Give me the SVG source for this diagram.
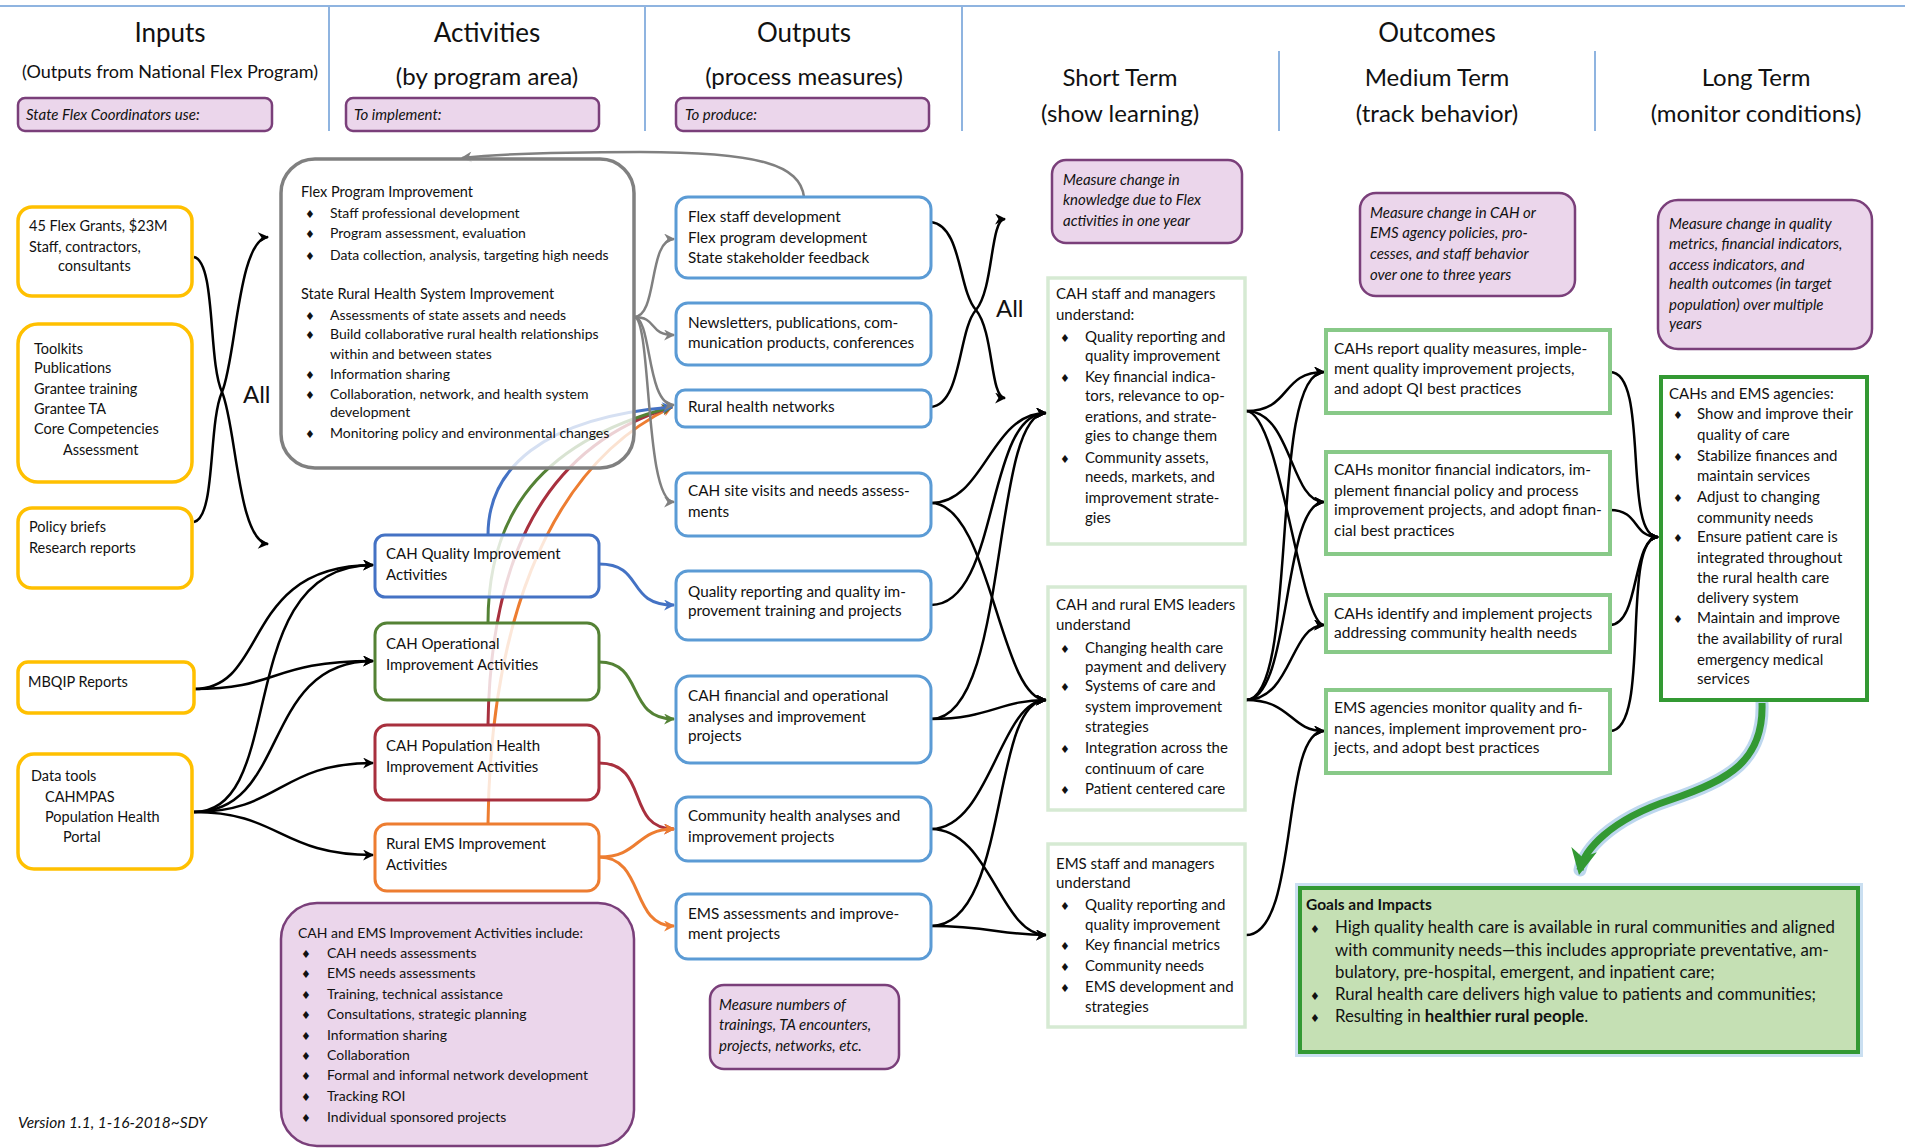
<svg xmlns="http://www.w3.org/2000/svg" width="1905" height="1148" viewBox="0 0 1905 1148">
<style>
text{font-family:Lato,"Liberation Sans",sans-serif;fill:#111;font-size:14.5px}
.h{font-size:26px;text-anchor:middle}
.sh{font-size:24px;text-anchor:middle}
.it{font-style:italic;font-size:15px}
.sm{font-size:14px}
.o{font-size:15.3px}
.m{font-size:15.5px}
.s{font-size:15px}
.d{font-family:"DejaVu Sans",sans-serif;font-size:11px}
.sep{stroke:#8FB4E0;stroke-width:2;fill:none}
.inp{fill:#fff;stroke:#FFC000;stroke-width:3.5}
.pur{fill:#EBD6EB;stroke:#7A3F7A;stroke-width:2.5}
.out{fill:#fff;stroke:#5B9BD5;stroke-width:3}
.st{fill:#fff;stroke:#D6EAD3;stroke-width:3.5}
.md{fill:#fff;stroke:#88C988;stroke-width:4}
.act{fill:#fff;fill-opacity:0.82;stroke-width:3}
.k{fill:none;stroke:#000;stroke-width:2.5;marker-end:url(#ak)}
.g{fill:none;stroke:#808080;stroke-width:2.5;marker-end:url(#ag)}
</style>
<defs>
<marker id="ak" viewBox="0 0 10 10" refX="9" refY="5" markerWidth="13" markerHeight="11" markerUnits="userSpaceOnUse" orient="auto"><path d="M0,0 L10,5 L0,10 L3,5z" fill="#000"/></marker>
<marker id="ag" viewBox="0 0 10 10" refX="9" refY="5" markerWidth="13" markerHeight="11" markerUnits="userSpaceOnUse" orient="auto"><path d="M0,0 L10,5 L0,10 L3,5z" fill="#808080"/></marker>
<marker id="abl" viewBox="0 0 10 10" refX="9" refY="5" markerWidth="13" markerHeight="11" markerUnits="userSpaceOnUse" orient="auto"><path d="M0,0 L10,5 L0,10 L3,5z" fill="#4472C4"/></marker>
<marker id="agr" viewBox="0 0 10 10" refX="9" refY="5" markerWidth="13" markerHeight="11" markerUnits="userSpaceOnUse" orient="auto"><path d="M0,0 L10,5 L0,10 L3,5z" fill="#548235"/></marker>
<marker id="are" viewBox="0 0 10 10" refX="9" refY="5" markerWidth="13" markerHeight="11" markerUnits="userSpaceOnUse" orient="auto"><path d="M0,0 L10,5 L0,10 L3,5z" fill="#A8303E"/></marker>
<marker id="aor" viewBox="0 0 10 10" refX="9" refY="5" markerWidth="13" markerHeight="11" markerUnits="userSpaceOnUse" orient="auto"><path d="M0,0 L10,5 L0,10 L3,5z" fill="#ED7D31"/></marker>
<marker id="abig" viewBox="0 0 10 10" refX="8" refY="5" markerWidth="26" markerHeight="26" markerUnits="userSpaceOnUse" orient="auto"><path d="M0,0 L10,5 L0,10 L3,5z" fill="#339933"/></marker>
</defs>

<g id="header">
<line class="sep" x1="0" y1="6" x2="1905" y2="6"/>
<line class="sep" x1="329" y1="6" x2="329" y2="131"/>
<line class="sep" x1="645" y1="6" x2="645" y2="131"/>
<line class="sep" x1="962" y1="6" x2="962" y2="131"/>
<line class="sep" x1="1279" y1="51" x2="1279" y2="131"/>
<line class="sep" x1="1595" y1="51" x2="1595" y2="131"/>
<text class="h" x="170" y="42">Inputs</text>
<text class="h" x="487" y="42">Activities</text>
<text class="h" x="804" y="42">Outputs</text>
<text class="h" x="1437" y="42">Outcomes</text>
<text x="170" y="78" style="font-size:18px;text-anchor:middle">(Outputs from National Flex Program)</text>
<text class="sh" x="487" y="85">(by program area)</text>
<text class="sh" x="804" y="85">(process measures)</text>
<text class="sh" x="1120" y="86">Short Term</text>
<text class="sh" x="1120" y="122">(show learning)</text>
<text class="sh" x="1437" y="86">Medium Term</text>
<text class="sh" x="1437" y="122">(track behavior)</text>
<text class="sh" x="1756" y="86">Long Term</text>
<text class="sh" x="1756" y="122">(monitor conditions)</text>
</g>
<g id="hdr-inputs"><rect class="pur" x="18" y="98" width="254" height="33" rx="7"/><text class="it" x="26" y="120">State Flex Coordinators use:</text></g>
<g id="hdr-activities"><rect class="pur" x="346" y="98" width="253" height="33" rx="7"/><text class="it" x="354" y="120">To implement:</text></g>
<g id="hdr-outputs"><rect class="pur" x="676" y="98" width="253" height="33" rx="7"/><text class="it" x="685" y="120">To produce:</text></g>

<g id="connectors">
<path class="k" d="M194 257 C216 262 208 362 222 392 C236 424 238 542 268 544"/>
<path class="k" d="M194 522 C216 517 208 424 222 392 C236 360 238 239 268 237"/>
<path class="k" d="M194 689 C270 689 240 565 373 565"/>
<path class="k" d="M194 689 C280 689 270 661 373 661"/>
<path class="k" d="M194 812 C290 812 230 565 373 565"/>
<path class="k" d="M194 812 C290 812 260 661 373 661"/>
<path class="k" d="M194 812 C280 812 280 763 373 763"/>
<path class="k" d="M194 812 C280 812 280 855 373 855"/>
<path fill="none" stroke="#ED7D31" stroke-width="3" marker-end="url(#aor)" d="M488 824 C490 640 540 470 672 407"/>
<path fill="none" stroke="#A8303E" stroke-width="3" marker-end="url(#are)" d="M488 725 C490 580 530 450 672 407"/>
<path fill="none" stroke="#548235" stroke-width="3" marker-end="url(#agr)" d="M488 623 C488 530 525 445 672 407"/>
<path fill="none" stroke="#4472C4" stroke-width="3" marker-end="url(#abl)" d="M488 535 C488 470 540 418 672 407"/>
<path fill="none" stroke="#4472C4" stroke-width="3" marker-end="url(#abl)" d="M599 564 C645 564 625 605 674 605"/>
<path fill="none" stroke="#548235" stroke-width="3" marker-end="url(#agr)" d="M599 662 C645 662 625 719 674 719"/>
<path fill="none" stroke="#A8303E" stroke-width="3" marker-end="url(#are)" d="M599 763 C650 763 625 829 674 829"/>
<path fill="none" stroke="#ED7D31" stroke-width="3" marker-end="url(#aor)" d="M599 857 C640 857 635 829 674 829"/>
<path fill="none" stroke="#ED7D31" stroke-width="3" marker-end="url(#aor)" d="M599 857 C645 857 630 926 674 926"/>
<path class="g" d="M804 197 C800 165 760 152 640 152 C560 152 500 154 462 158"/>
<path class="g" d="M634 317 C658 317 648 239 674 239"/>
<path class="g" d="M634 317 C658 317 648 335 674 335"/>
<path class="g" d="M634 317 C652 317 646 405 674 405"/>
<path class="g" d="M634 317 C652 317 644 502 674 502"/>
<path class="k" d="M931 222 C962 226 958 290 976 310 C994 332 990 398 1005 398"/>
<path class="k" d="M931 407 C962 404 958 330 976 310 C994 288 990 219 1005 219"/>
<path class="k" d="M931 503 C985 503 990 413 1046 413"/>
<path class="k" d="M931 503 C990 503 1000 700 1046 700"/>
<path class="k" d="M931 605 C1000 605 985 413 1046 413"/>
<path class="k" d="M931 719 C1010 719 990 413 1046 413"/>
<path class="k" d="M931 719 C990 719 1000 700 1046 700"/>
<path class="k" d="M931 829 C990 829 1000 700 1046 700"/>
<path class="k" d="M931 829 C990 829 1000 935 1046 935"/>
<path class="k" d="M931 926 C1010 926 990 700 1046 700"/>
<path class="k" d="M931 926 C990 926 1000 935 1046 935"/>
<path class="k" d="M1246 411 C1292 411 1280 372 1324 372"/>
<path class="k" d="M1246 411 C1292 411 1290 502 1324 502"/>
<path class="k" d="M1246 411 C1280 411 1300 625 1324 625"/>
<path class="k" d="M1246 700 C1300 700 1268 372 1324 372"/>
<path class="k" d="M1246 700 C1292 700 1282 502 1324 502"/>
<path class="k" d="M1246 700 C1292 700 1290 625 1324 625"/>
<path class="k" d="M1246 700 C1292 700 1290 731 1324 731"/>
<path class="k" d="M1246 935 C1300 935 1280 731 1324 731"/>
<path class="k" d="M1610 372 C1650 372 1622 537 1658 537"/>
<path class="k" d="M1610 510 C1640 510 1632 537 1658 537"/>
<path class="k" d="M1610 625 C1640 625 1632 537 1658 537"/>
<path class="k" d="M1610 731 C1652 731 1620 537 1658 537"/>
<path fill="none" stroke="#BDD7EE" stroke-width="13" stroke-linecap="round" d="M1762 703 C1764 760 1730 780 1670 800 C1610 820 1584 850 1580 870"/>
<path fill="none" stroke="#339933" stroke-width="7" marker-end="url(#abig)" d="M1762 703 C1764 760 1730 780 1670 800 C1610 820 1584 850 1580 870"/>
</g>

<g id="in-grants"><rect class="inp" x="18" y="207" width="174" height="89" rx="14"/>
<text x="29" y="231">45 Flex Grants, $23M</text><text x="29" y="252">Staff, contractors,</text><text x="58" y="271">consultants</text></g>
<g id="in-toolkits"><rect class="inp" x="18" y="324" width="174" height="158" rx="20"/>
<text x="34" y="354">Toolkits</text><text x="34" y="373">Publications</text><text x="34" y="394">Grantee training</text><text x="34" y="414">Grantee TA</text><text x="34" y="434">Core Competencies</text><text x="63" y="455">Assessment</text></g>
<g id="in-policy"><rect class="inp" x="18" y="508" width="174" height="80" rx="14"/>
<text x="29" y="532">Policy briefs</text><text x="29" y="553">Research reports</text></g>
<g id="in-mbqip"><rect class="inp" x="18" y="662" width="176" height="51" rx="10"/>
<text x="28" y="687">MBQIP Reports</text></g>
<g id="in-data"><rect class="inp" x="18" y="754" width="174" height="115" rx="16"/>
<text x="31" y="781">Data tools</text><text x="45" y="802">CAHMPAS</text><text x="45" y="822">Population Health</text><text x="63" y="842">Portal</text></g>
<text x="243" y="403" style="font-size:24px">All</text>

<g id="act-flex"><rect x="281" y="159" width="353" height="309" rx="34" fill="#fff" fill-opacity="0.78" stroke="#808080" stroke-width="3.5"/>
<text x="301" y="197">Flex Program Improvement</text>
<text class="d" x="305" y="218">♦</text><text class="sm" x="330" y="218">Staff professional development</text>
<text class="d" x="305" y="238">♦</text><text class="sm" x="330" y="238">Program assessment, evaluation</text>
<text class="d" x="305" y="260">♦</text><text class="sm" x="330" y="260">Data collection, analysis, targeting high needs</text>
<text x="301" y="299">State Rural Health System Improvement</text>
<text class="d" x="305" y="320">♦</text><text class="sm" x="330" y="320">Assessments of state assets and needs</text>
<text class="d" x="305" y="339">♦</text><text class="sm" x="330" y="339">Build collaborative rural health relationships</text>
<text class="sm" x="330" y="359">within and between states</text>
<text class="d" x="305" y="379">♦</text><text class="sm" x="330" y="379">Information sharing</text>
<text class="d" x="305" y="399">♦</text><text class="sm" x="330" y="399">Collaboration, network, and health system</text>
<text class="sm" x="330" y="417">development</text>
<text class="d" x="305" y="438">♦</text><text class="sm" x="330" y="438">Monitoring policy and environmental changes</text></g>

<g id="act-quality"><rect class="act" x="375" y="535" width="224" height="62" rx="10" stroke="#4472C4"/>
<text class="s" x="386" y="559">CAH Quality Improvement</text><text class="s" x="386" y="580">Activities</text></g>
<g id="act-operational"><rect class="act" x="375" y="623" width="224" height="77" rx="12" stroke="#548235"/>
<text class="s" x="386" y="649">CAH Operational</text><text class="s" x="386" y="670">Improvement Activities</text></g>
<g id="act-population"><rect class="act" x="375" y="725" width="224" height="75" rx="12" stroke="#A8303E"/>
<text class="s" x="386" y="751">CAH Population Health</text><text class="s" x="386" y="772">Improvement Activities</text></g>
<g id="act-ems"><rect class="act" x="375" y="824" width="224" height="67" rx="12" stroke="#ED7D31"/>
<text class="s" x="386" y="849">Rural EMS Improvement</text><text class="s" x="386" y="870">Activities</text></g>

<g id="act-include"><rect class="pur" x="281" y="903" width="353" height="243" rx="36"/>
<text x="298" y="938" class="sm">CAH and EMS Improvement Activities include:</text>
<text class="d" x="301" y="958">♦</text><text class="sm" x="327" y="958">CAH needs assessments</text>
<text class="d" x="301" y="978">♦</text><text class="sm" x="327" y="978">EMS needs assessments</text>
<text class="d" x="301" y="999">♦</text><text class="sm" x="327" y="999">Training, technical assistance</text>
<text class="d" x="301" y="1019">♦</text><text class="sm" x="327" y="1019">Consultations, strategic planning</text>
<text class="d" x="301" y="1040">♦</text><text class="sm" x="327" y="1040">Information sharing</text>
<text class="d" x="301" y="1060">♦</text><text class="sm" x="327" y="1060">Collaboration</text>
<text class="d" x="301" y="1080">♦</text><text class="sm" x="327" y="1080">Formal and informal network development</text>
<text class="d" x="301" y="1101">♦</text><text class="sm" x="327" y="1101">Tracking ROI</text>
<text class="d" x="301" y="1122">♦</text><text class="sm" x="327" y="1122">Individual sponsored projects</text></g>

<text x="18" y="1128" class="it" style="font-size:15.5px">Version 1.1, 1-16-2018~SDY</text>

<g id="out-flex"><rect class="out" x="676" y="197" width="255" height="81" rx="12"/>
<text class="o" x="688" y="222">Flex staff development</text><text class="o" x="688" y="243">Flex program development</text><text class="o" x="688" y="263">State stakeholder feedback</text></g>
<g id="out-news"><rect class="out" x="676" y="303" width="255" height="62" rx="12"/>
<text class="o" x="688" y="328">Newsletters, publications, com-</text><text class="o" x="688" y="348">munication products, conferences</text></g>
<g id="out-networks"><rect class="out" x="676" y="390" width="255" height="37" rx="9"/>
<text class="o" x="688" y="412">Rural health networks</text></g>
<g id="out-site"><rect class="out" x="676" y="473" width="255" height="63" rx="12"/>
<text class="o" x="688" y="496">CAH site visits and needs assess-</text><text class="o" x="688" y="517">ments</text></g>
<g id="out-quality"><rect class="out" x="676" y="571" width="255" height="69" rx="12"/>
<text class="o" x="688" y="597">Quality reporting and quality im-</text><text class="o" x="688" y="616">provement training and projects</text></g>
<g id="out-financial"><rect class="out" x="676" y="676" width="255" height="87" rx="14"/>
<text class="o" x="688" y="701">CAH financial and operational</text><text class="o" x="688" y="722">analyses and  improvement</text><text class="o" x="688" y="741">projects</text></g>
<g id="out-community"><rect class="out" x="676" y="797" width="255" height="64" rx="12"/>
<text class="o" x="688" y="821">Community health analyses and</text><text class="o" x="688" y="842">improvement projects</text></g>
<g id="out-ems"><rect class="out" x="676" y="894" width="255" height="65" rx="12"/>
<text class="o" x="688" y="919">EMS assessments and improve-</text><text class="o" x="688" y="939">ment projects</text></g>
<g id="out-measure"><rect class="pur" x="710" y="985" width="189" height="84" rx="14"/>
<text class="it" x="719" y="1010">Measure numbers of</text><text class="it" x="719" y="1030">trainings, TA encounters,</text><text class="it" x="719" y="1051">projects, networks, etc.</text></g>
<text x="996" y="317" style="font-size:24px">All</text>

<g id="st-measure"><rect class="pur" x="1052" y="160" width="190" height="83" rx="14"/>
<text class="it" x="1063" y="185">Measure change in</text><text class="it" x="1063" y="205">knowledge due to Flex</text><text class="it" x="1063" y="226">activities in one year</text></g>
<g id="st-cah" class="s"><rect class="st" x="1048" y="278" width="197" height="266"/>
<text class="s" x="1056" y="299">CAH staff and managers</text><text class="s" x="1056" y="320">understand:</text>
<text class="d" x="1060" y="342">♦</text><text class="s" x="1085" y="342">Quality reporting and</text><text class="s" x="1085" y="361">quality improvement</text>
<text class="d" x="1060" y="382">♦</text><text class="s" x="1085" y="382">Key financial indica-</text><text class="s" x="1085" y="401">tors, relevance to op-</text><text class="s" x="1085" y="422">erations, and strate-</text><text class="s" x="1085" y="441">gies to change them</text>
<text class="d" x="1060" y="463">♦</text><text class="s" x="1085" y="463">Community assets,</text><text class="s" x="1085" y="482">needs, markets, and</text><text class="s" x="1085" y="503">improvement strate-</text><text class="s" x="1085" y="523">gies</text></g>
<g id="st-leaders"><rect class="st" x="1048" y="587" width="197" height="223"/>
<text class="s" x="1056" y="610">CAH and rural EMS leaders</text><text class="s" x="1056" y="630">understand</text>
<text class="d" x="1060" y="653">♦</text><text class="s" x="1085" y="653">Changing health care</text><text class="s" x="1085" y="672">payment and delivery</text>
<text class="d" x="1060" y="691">♦</text><text class="s" x="1085" y="691">Systems of care and</text><text class="s" x="1085" y="712">system improvement</text><text class="s" x="1085" y="732">strategies</text>
<text class="d" x="1060" y="753">♦</text><text class="s" x="1085" y="753">Integration across the</text><text class="s" x="1085" y="774">continuum of care</text>
<text class="d" x="1060" y="794">♦</text><text class="s" x="1085" y="794">Patient centered care</text></g>
<g id="st-ems"><rect class="st" x="1048" y="844" width="197" height="183"/>
<text class="s" x="1056" y="869">EMS staff and managers</text><text class="s" x="1056" y="888">understand</text>
<text class="d" x="1060" y="910">♦</text><text class="s" x="1085" y="910">Quality reporting and</text><text class="s" x="1085" y="930">quality improvement</text>
<text class="d" x="1060" y="950">♦</text><text class="s" x="1085" y="950">Key financial metrics</text>
<text class="d" x="1060" y="971">♦</text><text class="s" x="1085" y="971">Community needs</text>
<text class="d" x="1060" y="992">♦</text><text class="s" x="1085" y="992">EMS development and</text><text class="s" x="1085" y="1012">strategies</text></g>

<g id="md-measure"><rect class="pur" x="1360" y="193" width="215" height="103" rx="16"/>
<text class="it" x="1370" y="218">Measure change in CAH or</text><text class="it" x="1370" y="238">EMS agency policies, pro-</text><text class="it" x="1370" y="259">cesses, and staff behavior</text><text class="it" x="1370" y="280">over one to three years</text></g>
<g id="md-quality"><rect class="md" x="1326" y="330" width="284" height="83"/>
<text class="m" x="1334" y="354">CAHs report quality measures, imple-</text><text class="m" x="1334" y="374">ment quality improvement projects,</text><text class="m" x="1334" y="394">and adopt QI best practices</text></g>
<g id="md-financial"><rect class="md" x="1326" y="452" width="284" height="102"/>
<text class="m" x="1334" y="475">CAHs monitor financial indicators, im-</text><text class="m" x="1334" y="496">plement financial policy and process</text><text class="m" x="1334" y="515">improvement projects, and adopt finan-</text><text class="m" x="1334" y="536">cial best practices</text></g>
<g id="md-community"><rect class="md" x="1326" y="595" width="284" height="57"/>
<text class="m" x="1334" y="619">CAHs identify and implement projects</text><text class="m" x="1334" y="638">addressing community health needs</text></g>
<g id="md-ems"><rect class="md" x="1326" y="690" width="284" height="83"/>
<text class="m" x="1334" y="713">EMS agencies monitor quality and fi-</text><text class="m" x="1334" y="734">nances, implement improvement pro-</text><text class="m" x="1334" y="753">jects, and adopt best practices</text></g>

<g id="lt-measure"><rect class="pur" x="1658" y="200" width="214" height="149" rx="20"/>
<text class="it" x="1669" y="229">Measure change in quality</text><text class="it" x="1669" y="249">metrics, financial indicators,</text><text class="it" x="1669" y="270">access indicators, and</text><text class="it" x="1669" y="289">health outcomes (in target</text><text class="it" x="1669" y="310">population) over multiple</text><text class="it" x="1669" y="329">years</text></g>
<g id="lt-cahs"><rect x="1661" y="377" width="206" height="323" fill="#fff" stroke="#339933" stroke-width="4"/>
<text class="s" x="1669" y="399">CAHs and EMS agencies:</text>
<text class="d" x="1673" y="419">♦</text><text class="s" x="1697" y="419">Show and improve their</text><text class="s" x="1697" y="440">quality of care</text>
<text class="d" x="1673" y="461">♦</text><text class="s" x="1697" y="461">Stabilize finances and</text><text class="s" x="1697" y="481">maintain services</text>
<text class="d" x="1673" y="502">♦</text><text class="s" x="1697" y="502">Adjust to changing</text><text class="s" x="1697" y="523">community needs</text>
<text class="d" x="1673" y="542">♦</text><text class="s" x="1697" y="542">Ensure patient care is</text><text class="s" x="1697" y="563">integrated throughout</text><text class="s" x="1697" y="583">the rural health care</text><text class="s" x="1697" y="603">delivery system</text>
<text class="d" x="1673" y="623">♦</text><text class="s" x="1697" y="623">Maintain and improve</text><text class="s" x="1697" y="644">the availability of rural</text><text class="s" x="1697" y="665">emergency medical</text><text class="s" x="1697" y="684">services</text></g>

<g id="goals"><rect x="1300" y="888" width="558" height="164" fill="none" stroke="#BDD7EE" stroke-width="10" stroke-opacity="0.8"/>
<rect x="1300" y="888" width="558" height="164" fill="#C5E0B4" stroke="#339933" stroke-width="4"/>
<text x="1306" y="910" style="font-weight:bold;font-size:15.5px">Goals and Impacts</text>
<text class="d" x="1310" y="933">♦</text><text x="1335" y="933" style="font-size:16.8px">High quality health care is available in rural communities and aligned</text>
<text x="1335" y="956" style="font-size:16.8px">with community needs—this includes appropriate preventative, am-</text>
<text x="1335" y="978" style="font-size:16.8px">bulatory, pre-hospital, emergent, and inpatient care;</text>
<text class="d" x="1310" y="1000">♦</text><text x="1335" y="1000" style="font-size:16.8px">Rural health care delivers high value to patients and communities;</text>
<text class="d" x="1310" y="1022">♦</text><text x="1335" y="1022" style="font-size:16.8px">Resulting in <tspan style="font-weight:bold">healthier rural people</tspan>.</text></g>
</svg>
